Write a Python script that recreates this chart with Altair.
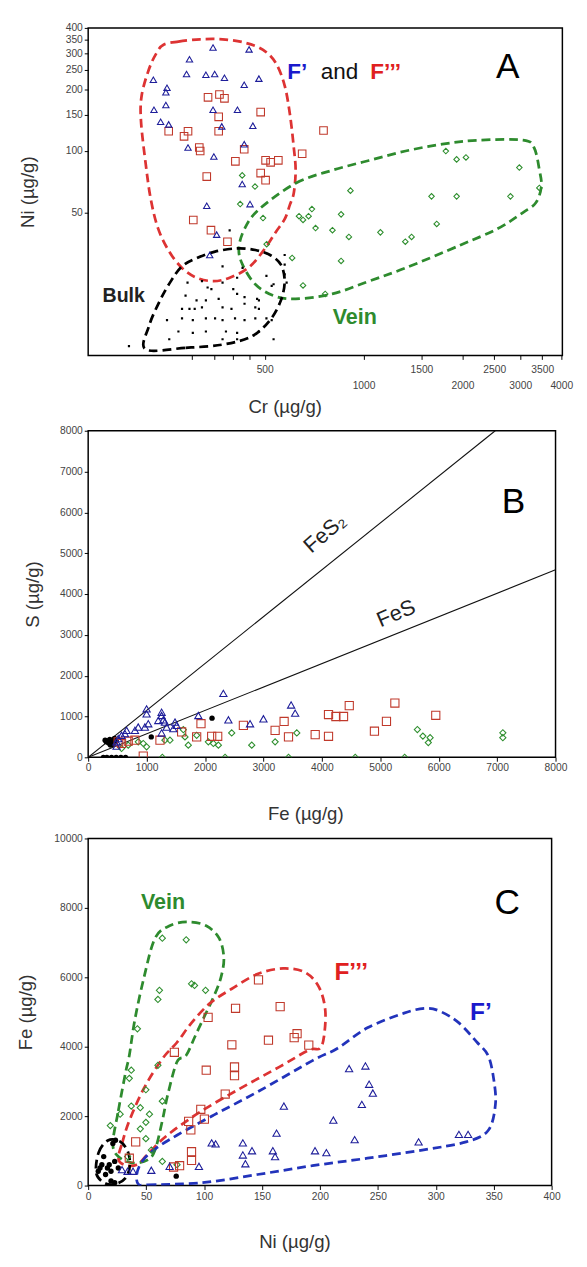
import altair as alt
import pandas as pd

FONT = "Liberation Sans"
LFONT = "Liberation Sans Narrow, Liberation Sans, Arial"
BLUE = "#1e1e9a"
RED = "#c0392b"
GREEN = "#2f8f2f"
C_RED = "#dd3333"
C_GREEN = "#2e8b2e"
C_BLUE = "#2233bb"

# ---------------- Panel A : Ni vs Cr (log-log) ----------------
A_F1_CR = [348, 448, 295, 229, 289, 331, 352, 377, 480, 433, 252, 250, 250, 230, 348, 413, 241, 255, 370, 460, 292, 433, 350, 427, 333, 451, 357, 340]
A_F1_NI = [321, 314, 281, 223, 238, 236, 238, 228, 226, 211, 204, 194, 168, 159, 159, 159, 139, 135, 132, 133, 104, 108, 94, 69, 54, 55, 39, 31]
A_F3_CR = [336, 364, 377, 362, 486, 755, 255, 292, 284, 362, 316, 318, 433, 650, 407, 503, 521, 550, 486, 503, 333, 303, 343, 385]
A_F3_NI = [183, 189, 181, 147, 155, 126, 125, 125, 118, 125, 104, 100, 102, 97, 89, 90, 88, 90, 78, 72, 75, 46, 41, 36]
A_VEIN_CR = [427, 467, 421, 912, 1780, 1920, 2050, 2980, 3430, 1610, 1920, 2800, 494, 636, 654, 696, 680, 854, 714, 804, 902, 1125, 1340, 1400, 1670, 507, 606, 854, 654, 764]
A_VEIN_NI = [76, 67, 55, 64, 100, 91, 93, 83, 66, 60, 60, 60, 47, 48, 46, 52, 48, 49, 42, 41, 38, 40, 36, 38, 44, 35, 30, 29, 22, 20]
A_BULK_CR = [291, 322, 335, 344, 372, 412, 506, 532, 583, 575, 287, 310, 331, 362, 401, 412, 434, 474, 480, 525,
             280, 295, 306, 322, 372, 396, 434, 468, 480, 252, 280, 302, 331, 353, 372, 406, 434, 468, 506, 525,
             273, 302, 331, 381, 412, 480, 532, 372, 412, 256, 193, 575, 575, 391, 428, 372]
A_BULK_NI = [22.7, 23.1, 21.5, 21.1, 22.7, 24.0, 24.5, 22.3, 22.7, 24.9, 19.6, 18.6, 18.6, 18.9, 21.1, 20.0, 19.3, 18.9, 18.6, 21.9,
             16.9, 16.9, 16.9, 17.2, 17.2, 16.9, 17.9, 17.2, 16.9, 14.9, 15.2, 14.9, 15.2, 15.2, 14.9, 15.2, 14.9, 15.2, 15.2, 14.9,
             13.1, 12.9, 13.1, 13.1, 12.9, 13.1, 12.0, 12.0, 12.0, 12.0, 11.1, 31.0, 27.8, 40.9, 26.8, 27.3]
# envelopes
A_RED_CR = [246, 273, 318, 372, 434, 493, 540, 575, 597, 613, 621, 613, 597, 575, 540, 493, 445, 391, 349, 310, 280, 256, 237, 225, 217, 210, 211, 222, 234]
A_RED_NI = [331, 343, 352, 352, 339, 313, 270, 209, 150, 104, 80.5, 62.3, 54.8, 46.4, 40.1, 32.2, 26.8, 24.0, 23.1, 24.0, 26.8, 32.2, 41.6, 57.9, 86.7, 140, 187, 251, 301]
A_GREEN_CR = [480, 621, 803, 1039, 1343, 1736, 2246, 3057, 3303, 3432, 3477, 3345, 3057, 2554, 1975, 1343, 1039, 803, 621, 532, 468, 428, 417, 434]
A_GREEN_NI = [51.8, 69.6, 80.5, 89.9, 100, 108, 113, 113, 104, 80.5, 67.0, 55.8, 50, 41.6, 34.7, 26.8, 23.1, 20.0, 18.9, 19.6, 22.3, 27.8, 33.4, 41.6]
A_BLACK_CR = [217, 287, 372, 456, 519, 560, 575, 560, 519, 468, 412, 353, 310, 280, 259, 240, 222]
A_BLACK_NI = [10.7, 10.9, 11.3, 12.4, 14.9, 18.6, 23.1, 27.8, 31.0, 32.8, 33.4, 32.2, 29.9, 27.3, 23.1, 18.6, 13.9]
A_X_TICKS = [300, 350, 400, 450, 500, 1000, 1500, 2000, 2500, 3000, 3500, 4000]
A_Y_TICKS = [50, 100, 150, 200, 250, 300, 350, 400]

# ---------------- Panel B : S vs Fe ----------------
B_F1_FE = [2314, 1000, 1000, 1257, 1257, 1200, 1314, 1486, 1514, 1457, 1343, 1257, 857, 800, 971, 1029, 629, 571, 657, 486, 514, 1886, 2400, 2771, 3000, 3474, 3543, 1286, 486]
B_F1_S = [1565, 1185, 1065, 1105, 1024, 903, 863, 863, 782, 702, 742, 597, 742, 661, 742, 823, 581, 540, 661, 379, 460, 1024, 919, 823, 944, 1282, 1081, 919, 274]
B_F3_FE = [4469, 4114, 4240, 4371, 3354, 3200, 3429, 3886, 4114, 2657, 1931, 1857, 2114, 2217, 1229, 800, 686, 514, 571, 1600, 943, 5250, 5106, 4900, 5950]
B_F3_S = [1266, 1048, 1000, 1000, 879, 661, 500, 556, 516, 782, 823, 500, 516, 516, 419, 419, 395, 379, 339, 621, 32, 1330, 880, 640, 1030]
B_VEIN_FE = [1629, 1657, 1714, 1857, 1314, 1400, 943, 857, 2057, 2143, 2229, 2457, 2800, 3200, 3571, 1269, 2343, 3429, 4571, 686, 571, 1000, 5635, 5729, 5853, 5822, 7098, 7098, 5417]
B_VEIN_S = [677, 500, 298, 540, 419, 419, 339, 379, 379, 339, 298, 597, 298, 379, 597, 0, 0, 0, 0, 298, 218, 258, 680, 520, 480, 360, 600, 480, 0]
B_BULK_FE = [290, 330, 370, 310, 400, 450, 350, 420, 380, 480, 260, 320, 400, 480, 560, 640, 1080, 2120]
B_BULK_S = [420, 400, 440, 380, 380, 460, 350, 320, 300, 400, 0, 0, 0, 0, 0, 0, 500, 960]
B_FES2_FE = [0, 6968]
B_FES2_S = [0, 8000]
B_FES_FE = [0, 8000]
B_FES_S = [0, 4592]
B_TICKS = [0, 1000, 2000, 3000, 4000, 5000, 6000, 7000, 8000]

# ---------------- Panel C : Fe vs Ni ----------------
C_VEIN_NI = [64, 84.6, 61.5, 60.2, 89.2, 91.8, 101.3, 42.5, 37.2, 35.5, 60.2, 49.8, 64, 37.2, 45, 27.6, 52.9, 49.8, 19.1, 45, 49.8, 54.5, 34, 76.7, 64]
C_VEIN_FE = [7127, 7080, 5625, 5362, 5812, 5765, 5625, 4517, 3324, 3089, 3465, 2760, 2432, 2291, 2244, 2056, 2056, 1821, 1728, 1634, 1352, 1023, 835, 601, 695]
C_F3_NI = [147, 127.2, 165.7, 103.5, 124, 155.6, 177.8, 180.3, 190.4, 74.4, 101.9, 126.3, 126.3, 118.3, 97.2, 100.3, 86.7, 88.6, 89.2, 89.2, 41, 35.5, 78.9, 73.7]
C_F3_FE = [5925, 5108, 5155, 4845, 4056, 4188, 4263, 4375, 4047, 3840, 3324, 3418, 3164, 2638, 2197, 1915, 1850, 1605, 976, 723, 1258, 789, 572, 535]
C_F1_NI = [225.2, 239.3, 242.5, 245.7, 236.2, 168.9, 211.6, 162.6, 106.6, 133.5, 133.5, 141.4, 135.7, 159.4, 161.3, 195.8, 205.6, 230, 285.2, 320, 327.9, 95.6, 70.3, 54.5, 34, 38.7, 29.2, 110]
C_F1_FE = [3371, 3446, 2920, 2666, 2338, 2291, 1887, 1511, 1230, 1230, 882, 1004, 629, 1004, 835, 1004, 948, 1324, 1258, 1474, 1474, 554, 554, 441, 413, 413, 460, 1200]
C_BULK_NI = [16.6, 11.8, 19.7, 8.7, 22.9, 15, 26, 19.7, 22.9, 13.4, 18.2, 10.2, 21.3, 23.6, 76]
C_BULK_FE = [507, 601, 413, 413, 695, 319, 507, 131, 84, 835, 601, 507, 1211, 1305, 272]
C_GREEN_NI = [21.3, 26, 32.4, 35.5, 40.3, 48.2, 57.7, 70.3, 86.1, 101.9, 113, 117.1, 114.6, 108.3, 100.3, 92.4, 84.5, 76.6, 68.7, 64, 57.7, 51.4, 38.7, 26]
C_GREEN_FE = [1211, 2150, 3277, 3747, 4780, 6000, 7127, 7484, 7597, 7484, 7127, 6564, 6000, 5437, 4873, 4310, 3747, 3559, 2620, 1868, 1023, 742, 648, 835]
C_RED_NI = [26, 29.2, 35.5, 48.2, 64, 76.6, 89.2, 105, 124, 146.1, 168.2, 187.2, 199.2, 204.6, 203.6, 199.9, 190.4, 165.1, 130.3, 95.6, 67.2, 51.4, 41.9, 30.8]
C_RED_FE = [788, 1211, 1868, 2808, 3652, 4122, 4686, 5249, 5671, 6094, 6254, 6141, 5718, 5061, 4310, 3950, 3900, 3420, 2780, 2100, 1420, 900, 601, 601]
C_BLUE_NI = [43.4, 51.4, 98.8, 146.2, 193.6, 241, 288.3, 326.2, 345.2, 351.5, 349.9, 345.2, 335.8, 320, 304.2, 291.5, 272.6, 241, 215, 193.6, 146.2, 108.3, 76.6, 57.7, 46.6, 41.9]
C_BLUE_FE = [37, 20, 84, 319, 572, 788, 1023, 1258, 1587, 2338, 3089, 3746, 4122, 4686, 5014, 5108, 4967, 4545, 3950, 3600, 2700, 2030, 1450, 1050, 700, 319]
C_BLACK_NI = [7, 9, 17, 27, 34, 36, 33, 25, 15]
C_BLACK_FE = [350, 950, 1300, 1280, 1000, 600, 250, 60, 60]
C_X_TICKS = [0, 50, 100, 150, 200, 250, 300, 350, 400]
C_Y_TICKS = [0, 2000, 4000, 6000, 8000, 10000]


def df(x, y):
    return pd.DataFrame({"x": x, "y": y, "i": list(range(len(x)))})


def make_enc(xscale, yscale, xaxis, yaxis):
    X = alt.X("x:Q", scale=xscale, axis=xaxis)
    Y = alt.Y("y:Q", scale=yscale, axis=yaxis)
    return X, Y


def pts(x, y, X, Y, shape, color, size, filled=False, sw=1.1):
    return alt.Chart(df(x, y)).mark_point(
        shape=shape, color=color, size=size, filled=filled, opacity=1,
        strokeWidth=sw, clip=True).encode(x=X, y=Y)


def curve(x, y, X, Y, color):
    return alt.Chart(df(x, y)).mark_line(
        color=color, strokeWidth=2.8, strokeDash=[9, 5],
        interpolate="cardinal-closed", clip=True).encode(x=X, y=Y, order="i:Q")


def txt(label, xv, yv, X, Y, **kw):
    d = pd.DataFrame({"x": [xv], "y": [yv], "t": [label]})
    return alt.Chart(d).mark_text(**kw).encode(x=X, y=Y, text="t:N")


common_axis = dict(grid=False, tickSize=4, tickColor="black", domain=False,
                   labelFont=LFONT, labelFontSize=10.5, labelColor="#444",
                   titleFont=FONT, titleFontSize=19, titleFontWeight="normal",
                   titleColor="#333", labelFlush=False, labelOverlap=False)

# ---- Panel A
ax_a_x = alt.Axis(title="Cr (µg/g)", values=A_X_TICKS,
                  labelExpr="datum.value >= 500 ? format(datum.value, 'd') : ''",
                  labelPadding={"condition": {"test": "datum.value == 1000 || datum.value == 2000 || datum.value == 3000 || datum.value == 4000", "value": 22}, "value": 5},
                  titleX=201, titleY=52, titleBaseline="middle", **common_axis)
ax_a_y = alt.Axis(title="Ni (µg/g)", values=A_Y_TICKS, format="d", titleX=-52, **common_axis)
XA, YA = make_enc(alt.Scale(type="log", domain=[145, 4030], nice=False),
                  alt.Scale(type="log", domain=[10, 400], nice=False), ax_a_x, ax_a_y)

A_LABELS = [("F’", 586, 226), ("and", 740, 226), ("F’’’", 1048, 226), ("A", 2746, 257), ("Bulk", 186, 19.6), ("Vein", 940, 15.4)]

panel_a = alt.layer(
    curve(A_RED_CR, A_RED_NI, XA, YA, C_RED),
    curve(A_GREEN_CR, A_GREEN_NI, XA, YA, C_GREEN),
    curve(A_BLACK_CR, A_BLACK_NI, XA, YA, "black"),
    pts(A_BULK_CR, A_BULK_NI, XA, YA, "square", "black", 5, filled=True),
    pts(A_VEIN_CR, A_VEIN_NI, XA, YA, "diamond", GREEN, 32),
    pts(A_F3_CR, A_F3_NI, XA, YA, "square", RED, 60),
    pts(A_F1_CR, A_F1_NI, XA, YA, "triangle-up", BLUE, 42),
    txt(A_LABELS[0][0], A_LABELS[0][1], A_LABELS[0][2], XA, YA, font=FONT, fontSize=23, fontWeight="bold", color="#1a1acc", align="left", baseline="alphabetic"),
    txt(A_LABELS[1][0], A_LABELS[1][1], A_LABELS[1][2], XA, YA, font=FONT, fontSize=23, color="#111", align="left", baseline="alphabetic"),
    txt(A_LABELS[2][0], A_LABELS[2][1], A_LABELS[2][2], XA, YA, font=FONT, fontSize=23, fontWeight="bold", color="#e02020", align="left", baseline="alphabetic"),
    txt(A_LABELS[3][0], A_LABELS[3][1], A_LABELS[3][2], XA, YA, font=FONT, fontSize=36, color="black", align="center", baseline="middle"),
    txt(A_LABELS[4][0], A_LABELS[4][1], A_LABELS[4][2], XA, YA, font=FONT, fontSize=20, fontWeight="bold", color="#222", align="center", baseline="middle"),
    txt(A_LABELS[5][0], A_LABELS[5][1], A_LABELS[5][2], XA, YA, font=FONT, fontSize=22, fontWeight="bold", color=C_GREEN, align="center", baseline="middle"),
).properties(width=485, height=335)

# ---- Panel B
ax_b_x = alt.Axis(title="Fe (µg/g)", values=B_TICKS, format="d", titleX=222, titleY=58, titleBaseline="middle", **common_axis)
ax_b_y = alt.Axis(title="S (µg/g)", values=B_TICKS, format="d", titleX=-47, **common_axis)
XB, YB = make_enc(alt.Scale(domain=[0, 8000], nice=False, zero=False),
                  alt.Scale(domain=[0, 8000], nice=False, zero=False), ax_b_x, ax_b_y)
lines_b = pd.DataFrame({"x": B_FES2_FE + B_FES_FE, "y": B_FES2_S + B_FES_S,
                        "k": ["FeS2", "FeS2", "FeS", "FeS"]})
B_LABELS = [("FeS₂", 4050, 5490, 319), ("FeS", 5270, 3525, 337), ("B", 7280, 6260, 0)]
panel_b = alt.layer(
    alt.Chart(lines_b).mark_line(color="#111", strokeWidth=1.1, clip=True).encode(x=XB, y=YB, detail="k:N"),
    pts(B_BULK_FE, B_BULK_S, XB, YB, "circle", "black", 30, filled=True),
    pts(B_VEIN_FE, B_VEIN_S, XB, YB, "diamond", GREEN, 40),
    pts(B_F3_FE, B_F3_S, XB, YB, "square", RED, 70),
    pts(B_F1_FE, B_F1_S, XB, YB, "triangle-up", BLUE, 55),
    txt(B_LABELS[0][0], B_LABELS[0][1], B_LABELS[0][2], XB, YB, font=FONT, fontSize=22, color="#222", angle=B_LABELS[0][3], align="center", baseline="middle"),
    txt(B_LABELS[1][0], B_LABELS[1][1], B_LABELS[1][2], XB, YB, font=FONT, fontSize=22, color="#222", angle=B_LABELS[1][3], align="center", baseline="middle"),
    txt(B_LABELS[2][0], B_LABELS[2][1], B_LABELS[2][2], XB, YB, font=FONT, fontSize=36, color="black", align="center", baseline="middle"),
).properties(width=478, height=334)

# ---- Panel C
ax_c_x = alt.Axis(title="Ni (µg/g)", values=C_X_TICKS, format="d", titleX=211, titleY=57, titleBaseline="middle", **common_axis)
ax_c_y = alt.Axis(title="Fe (µg/g)", values=C_Y_TICKS, format="d", titleX=-54, **common_axis)
XC, YC = make_enc(alt.Scale(domain=[0, 400], nice=False, zero=False),
                  alt.Scale(domain=[0, 10000], nice=False, zero=False), ax_c_x, ax_c_y)
C_LABELS = [("Vein", 64.6, 8170), ("F’’’", 227, 6141), ("F’", 339, 4986), ("C", 361.7, 8141)]
panel_c = alt.layer(
    curve(C_GREEN_NI, C_GREEN_FE, XC, YC, C_GREEN),
    curve(C_RED_NI, C_RED_FE, XC, YC, C_RED),
    curve(C_BLUE_NI, C_BLUE_FE, XC, YC, C_BLUE),
    curve(C_BLACK_NI, C_BLACK_FE, XC, YC, "black"),
    pts(C_BULK_NI, C_BULK_FE, XC, YC, "circle", "black", 30, filled=True),
    pts(C_VEIN_NI, C_VEIN_FE, XC, YC, "diamond", GREEN, 40),
    pts(C_F3_NI, C_F3_FE, XC, YC, "square", RED, 70),
    pts(C_F1_NI, C_F1_FE, XC, YC, "triangle-up", BLUE, 55),
    txt(C_LABELS[0][0], C_LABELS[0][1], C_LABELS[0][2], XC, YC, font=FONT, fontSize=22, fontWeight="bold", color=C_GREEN, align="center", baseline="middle"),
    txt(C_LABELS[1][0], C_LABELS[1][1], C_LABELS[1][2], XC, YC, font=FONT, fontSize=25, fontWeight="bold", color="#e02020", align="center", baseline="middle"),
    txt(C_LABELS[2][0], C_LABELS[2][1], C_LABELS[2][2], XC, YC, font=FONT, fontSize=25, fontWeight="bold", color="#1a1acc", align="center", baseline="middle"),
    txt(C_LABELS[3][0], C_LABELS[3][1], C_LABELS[3][2], XC, YC, font=FONT, fontSize=36, color="black", align="center", baseline="middle"),
).properties(width=474, height=355)

chart = alt.vconcat(panel_a, panel_b, panel_c, spacing=8).properties(
    padding={"left": 8, "top": 0, "right": 5, "bottom": 5},
    background="white",
).configure_view(stroke="black", strokeWidth=1.5)

chart.save("out.html", embed_options={"renderer": "svg", "actions": False})
